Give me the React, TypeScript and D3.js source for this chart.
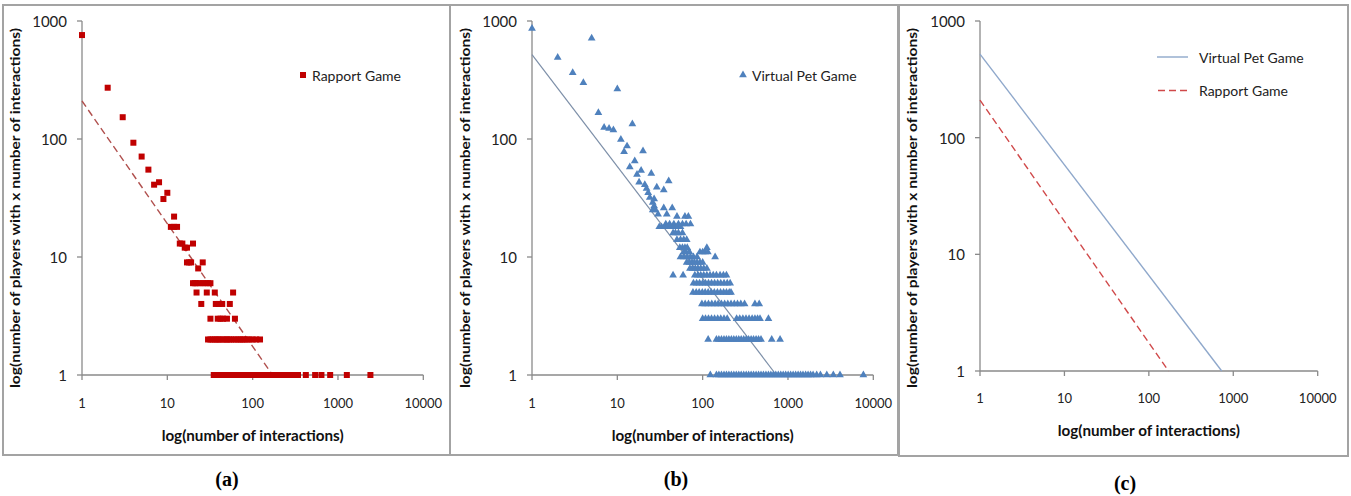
import React from "react";
import * as d3 from "d3";

const xTickValues = [1, 10, 100, 1000, 10000];
const yTickValues = [1, 10, 100, 1000];
const xTitle = "log(number of interactions)";
const yTitle = "log(number of players with x number of interactions)";
const captions = ["(a)", "(b)", "(c)"];
const seriesNames = ["Rapport Game", "Virtual Pet Game"];

// Rapport Game: [count of players, list of interaction counts]
const rapportRows: [number, number[]][] = [
  [760, [1]],
  [272, [2]],
  [153, [3]],
  [93, [4]],
  [71, [5]],
  [55, [6]],
  [41, [7]],
  [43, [8]],
  [31, [9]],
  [35, [10]],
  [22, [12]],
  [18, [11, 12, 13]],
  [13, [14, 15, 20]],
  [12, [16, 17]],
  [9, [17, 18, 19, 26]],
  [8, [23]],
  [6, [20, 21, 22, 24, 26, 28, 30, 32]],
  [5, [22, 29, 36, 59]],
  [4, [25, 37, 40, 44, 54]],
  [3, [32, 39, 42, 45, 50, 62]],
  [2, [30, 32, 34, 36, 38, 40, 42, 45, 48, 50, 53, 56, 60, 64, 68, 72, 76, 80, 86, 92, 100, 110, 122]],
  [1, [35, 37, 39, 41, 43, 45, 47, 49, 52, 55, 58, 61, 64, 67, 70, 74, 78, 82, 86, 90, 95, 100, 106, 112, 118, 125, 132, 140, 150, 160, 170, 180, 195, 210, 230, 250, 270, 290, 340, 420, 540, 640, 810, 1270, 2400]],
];

// Virtual Pet Game: [count of players, list of interaction counts]
const petRows: [number, number[]][] = [
  [863, [1]],
  [490, [2]],
  [364, [3]],
  [300, [4]],
  [713, [5]],
  [167, [6]],
  [125, [7]],
  [123, [8]],
  [119, [9]],
  [265, [10]],
  [99, [11]],
  [78, [12]],
  [87, [13]],
  [58, [14]],
  [134, [15]],
  [65, [16]],
  [50, [17]],
  [43, [18]],
  [54, [19]],
  [79, [20]],
  [41, [21]],
  [38, [22]],
  [35, [23]],
  [32, [24]],
  [51, [25]],
  [29, [26]],
  [31, [27]],
  [39, [29]],
  [37, [35]],
  [44, [40]],
  [27, [27]],
  [25, [26, 28]],
  [26, [35, 44]],
  [23, [30, 38]],
  [22, [50, 62, 68]],
  [19, [37, 41, 46, 52, 58, 64, 72]],
  [18, [31, 33, 36, 39, 42, 46, 50, 55]],
  [16, [45, 48, 52, 58]],
  [14, [50, 55, 60, 65]],
  [12, [54, 58, 62, 66, 112]],
  [11, [60, 64, 70, 93, 100, 107, 115]],
  [10, [55, 60, 66, 72, 78, 86, 140]],
  [9, [65, 70, 75, 80, 86, 93, 100]],
  [8, [71, 76, 82, 88, 95, 103, 112]],
  [7, [45, 59, 81, 88, 95, 103, 112, 122, 133, 145, 160, 175, 190]],
  [6, [78, 85, 92, 100, 108, 117, 127, 138, 150, 163, 178, 194, 210]],
  [5, [77, 84, 91, 99, 107, 116, 126, 137, 149, 162, 176, 190, 205, 215]],
  [4, [98, 107, 117, 128, 140, 152, 166, 181, 197, 215, 235, 256, 280, 310, 410, 460]],
  [3, [100, 108, 117, 127, 138, 150, 163, 178, 194, 250, 272, 296, 322, 350, 380, 410, 440, 470, 590]],
  [2, [116, 145, 155, 166, 178, 190, 203, 217, 232, 248, 265, 283, 303, 324, 346, 370, 395, 423, 452, 483, 645, 808]],
  [1, [123, 145, 155, 166, 178, 190, 203, 217, 232, 248, 265, 283, 303, 324, 346, 370, 395, 423, 452, 483, 516, 552, 590, 630, 673, 720, 770, 823, 880, 940, 1005, 1075, 1150, 1230, 1315, 1405, 1500, 1610, 1720, 1840, 1970, 2170, 2400, 2850, 3400, 4070, 7650]],
];

// Power-law trend lines (endpoints)
const rapportFit: [number, number][] = [[1, 210], [171, 1]];
const petFit: [number, number][] = [[1, 520], [730, 1]];

const flatten = (rows: [number, number[]][]) =>
  rows.flatMap(([y, xs]) => xs.map((x) => [x, y] as [number, number]));
const rapportPoints = flatten(rapportRows);
const petPoints = flatten(petRows);

const FONT = "Lato, 'Open Sans', sans-serif";
const AXIS = "#8a8a8a";
const BORDER = "#a3a3a3";
const RED = "#c00000";
const BLUE = "#4f81bd";

type PanelProps = {
  box: [number, number, number, number];
  xr: [number, number];
  yr: [number, number];
  yTitleX: number;
  xLabelY: number;
  xTitleY: number;
  children: (x: d3.ScaleLogarithmic<number, number>, y: d3.ScaleLogarithmic<number, number>) => React.ReactNode;
};

function Panel({ box, xr, yr, yTitleX, xLabelY, xTitleY, children }: PanelProps) {
  const x = d3.scaleLog().domain([1, 10000]).range(xr);
  const y = d3.scaleLog().domain([1, 1000]).range(yr);
  const [bx, by, bw, bh] = box;
  const yMid = 208;
  return (
    <g>
      <rect x={bx} y={by} width={bw} height={bh} fill="#fff" stroke={BORDER} strokeWidth={2} />
      {/* y axis */}
      <line x1={xr[0]} x2={xr[0]} y1={yr[0]} y2={yr[1]} stroke={AXIS} strokeWidth={1.3} />
      {yTickValues.map((t) => (
        <g key={"y" + t}>
          <line x1={xr[0] - 5} x2={xr[0]} y1={y(t)} y2={y(t)} stroke={AXIS} strokeWidth={1.3} />
          <text x={xr[0] - 15} y={y(t)} textAnchor="end" dominantBaseline="central" fontSize={15} fontFamily={FONT} fill="#222">
            {t}
          </text>
        </g>
      ))}
      {/* x axis */}
      <line x1={xr[0]} x2={xr[1]} y1={yr[0]} y2={yr[0]} stroke={AXIS} strokeWidth={1.3} />
      {xTickValues.map((t) => (
        <g key={"x" + t}>
          <line x1={x(t)} x2={x(t)} y1={yr[0]} y2={yr[0] + 5} stroke={AXIS} strokeWidth={1.3} />
          <text x={x(t)} y={xLabelY} textAnchor="middle" dominantBaseline="central" fontSize={13} fontFamily={FONT} fill="#222">
            {t}
          </text>
        </g>
      ))}
      <text x={(xr[0] + xr[1]) / 2} y={xTitleY} textAnchor="middle" dominantBaseline="central" fontSize={14.5} fontWeight="bold" fontFamily={FONT} fill="#111" textLength={182} lengthAdjust="spacingAndGlyphs">
        {xTitle}
      </text>
      <text
        transform={`translate(${yTitleX},${yMid}) rotate(-90)`}
        textAnchor="middle"
        dominantBaseline="central"
        fontSize={14}
        fontWeight="bold"
        fontFamily={FONT}
        fill="#111"
        textLength={360}
        lengthAdjust="spacingAndGlyphs"
      >
        {yTitle}
      </text>
      {children(x, y)}
    </g>
  );
}

export default function App() {
  const tri = d3.symbol(d3.symbolTriangle, 26)() as string;
  const line = (x: any, y: any) => d3.line<[number, number]>().x((d) => x(d[0])).y((d) => y(d[1]));
  return (
    <svg width={1351} height={496} style={{ position: "absolute", left: 0, top: 0, background: "#fff" }}>
      <rect x={0} y={0} width={1351} height={496} fill="#fff" />
      {/* (a) */}
      <Panel box={[3, 5, 447, 450]} xr={[82, 423.3]} yr={[375, 21]} yTitleX={14} xLabelY={403} xTitleY={435}>
        {(x, y) => (
          <g>
            <path d={line(x, y)(rapportFit) || ""} fill="none" stroke="#b0504e" strokeWidth={1.4} strokeDasharray="7,4" />
            {rapportPoints.map((p, i) => (
              <rect key={i} x={x(p[0]) - 3} y={y(p[1]) - 3} width={6} height={6} fill={RED} />
            ))}
            <rect x={300} y={72} width={6} height={6} fill={RED} />
            <text x={312} y={75} dominantBaseline="central" fontSize={14} fontFamily={FONT} fill="#222">
              {seriesNames[0]}
            </text>
          </g>
        )}
      </Panel>
      {/* (b) */}
      <Panel box={[450, 5, 448, 450]} xr={[532, 873.3]} yr={[375, 21]} yTitleX={464} xLabelY={403} xTitleY={435}>
        {(x, y) => (
          <g>
            <path d={line(x, y)(petFit) || ""} fill="none" stroke="#7d8fa8" strokeWidth={1.2} />
            {petPoints.map((p, i) => (
              <path key={i} d={tri} transform={`translate(${x(p[0])},${y(p[1])})`} fill={BLUE} />
            ))}
            <path d={tri} transform="translate(743,75)" fill={BLUE} />
            <text x={752} y={75} dominantBaseline="central" fontSize={14} fontFamily={FONT} fill="#222">
              {seriesNames[1]}
            </text>
          </g>
        )}
      </Panel>
      {/* (c) */}
      <Panel box={[899, 5, 449, 451]} xr={[980, 1317.7]} yr={[371, 21]} yTitleX={911} xLabelY={397.5} xTitleY={430}>
        {(x, y) => (
          <g>
            <path d={line(x, y)(petFit) || ""} fill="none" stroke="#8fa8cb" strokeWidth={1.4} />
            <path d={line(x, y)(rapportFit) || ""} fill="none" stroke="#d0494a" strokeWidth={1.4} strokeDasharray="7,4" />
            <line x1={1157} x2={1188} y1={57} y2={57} stroke="#8fa8cb" strokeWidth={1.4} />
            <text x={1199} y={57} dominantBaseline="central" fontSize={14} fontFamily={FONT} fill="#222">
              {seriesNames[1]}
            </text>
            <line x1={1158} x2={1188} y1={90.5} y2={90.5} stroke="#d0494a" strokeWidth={1.4} strokeDasharray="7,4" />
            <text x={1199} y={90.5} dominantBaseline="central" fontSize={14} fontFamily={FONT} fill="#222">
              {seriesNames[0]}
            </text>
          </g>
        )}
      </Panel>
      {captions.map((c, i) => (
        <text key={c} x={[227, 676, 1125][i]} y={[486, 486, 490][i]} textAnchor="middle" fontSize={20} fontWeight="bold" fontFamily="'Liberation Serif', 'Times New Roman', serif" fill="#000">
          {c}
        </text>
      ))}
    </svg>
  );
}
